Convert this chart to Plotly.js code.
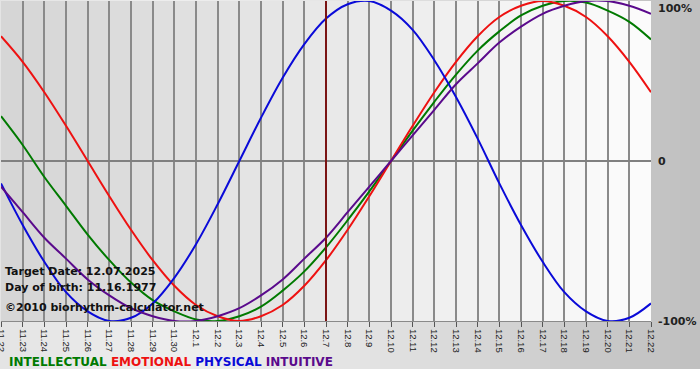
<!DOCTYPE html>
<html>
<head>
<meta charset="utf-8">
<script src="https://cdn.plot.ly/plotly-3.0.1.min.js"></script>
<style>html,body{margin:0;padding:0;background:#fff;}#chart{width:700px;height:380px;}</style>
</head>
<body>
<div id="chart"></div>
<script>
// ---- data ----
const days = ['11.22','11.23','11.24','11.25','11.26','11.27','11.28','11.29','11.30',
  '12.1','12.2','12.3','12.4','12.5','12.6','12.7','12.8','12.9','12.10','12.11','12.12',
  '12.13','12.14','12.15','12.16','12.17','12.18','12.19','12.20','12.21','12.22'];
const intellectual = [28,10,-10,-28,-46,-62,-76,-87,-94,-99,-100,-97,-91,-81,-69,-54,-37,-19,0,19,37,54,69,81,91,97,100,99,94,87,76];
const emotional    = [78,62,43,22,0,-22,-43,-62,-78,-90,-97,-100,-97,-90,-78,-62,-43,-22,0,22,43,62,78,90,97,100,97,90,78,62,43];
const physical     = [-14,-40,-63,-82,-94,-100,-98,-89,-73,-52,-27,0,27,52,73,89,98,100,94,82,63,40,14,-14,-40,-63,-82,-94,-100,-98,-89];
const intuitive    = [-16,-32,-48,-61,-74,-84,-92,-97,-100,-100,-97,-92,-84,-74,-61,-48,-32,-16,0,16,32,48,61,74,84,92,97,100,100,97,92];
const yTickVals = [-100, 0, 100];
const yTickText = ['-100%', '0', '100%'];
const targetDay = '12.7';
const infoLines = ['Target Date: 12.07.2025', 'Day of birth: 11.16.1977', '\u00a92010 biorhythm-calculator.net'];
const seriesNames = ['INTELLECTUAL', 'EMOTIONAL', 'PHYSICAL', 'INTUITIVE'];

// ---- styling ----
const colors = {INTELLECTUAL:'#007a00', EMOTIONAL:'#ee1111', PHYSICAL:'#0a0ad8', INTUITIVE:'#5a0a8c'};
const seriesData = {INTELLECTUAL:intellectual, EMOTIONAL:emotional, PHYSICAL:physical, INTUITIVE:intuitive};
const FONT = 'DejaVu Sans, Verdana, sans-serif';

const W = 700, H = 380, L = 1, R = 49, T = 1, B = 59;
const pw = W - L - R, ph = H - T - B;
const px2x = p => (p - L) / pw;
const py2y = p => (H - B - p) / ph;

const traces = seriesNames.map(n => ({
  x: days, y: seriesData[n], type: 'scatter', mode: 'lines', name: n,
  line: {color: colors[n], width: 2, shape: 'spline', smoothing: 1},
  hoverinfo: 'skip'
}));

const shapes = [];
function lerp(a, b, t) { return Math.round(a + (b - a) * t); }
function grayAt(px) {
  const stops = [[0, 228], [180, 238], [380, 226], [600, 200], [700, 192]];
  for (let k = 0; k < stops.length - 1; k++) {
    if (px <= stops[k+1][0]) {
      const t = (px - stops[k][0]) / (stops[k+1][0] - stops[k][0]);
      return lerp(stops[k][1], stops[k+1][1], t);
    }
  }
  return 192;
}
const stripe = 10;
for (let p = 0; p < W; p += stripe) {
  const g = grayAt(p + stripe / 2);
  shapes.push({type:'rect', xref:'paper', yref:'paper', layer:'below',
    x0: px2x(p), x1: px2x(p + stripe + 0.5), y0: py2y(369), y1: py2y(0),
    fillcolor: `rgb(${g},${g},${g})`, line:{width:0}});
}
const nCols = days.length - 1;
for (let i = 0; i < nCols; i++) {
  const g = lerp(213, 252, (i + 0.5) / nCols);
  shapes.push({type:'rect', xref:'x', yref:'paper', layer:'below',
    x0: i, x1: i + 1, y0: 0, y1: 1,
    fillcolor: `rgb(${g},${g},${g})`, line:{width:0}});
}
const ti = days.indexOf(targetDay);
shapes.push({type:'line', xref:'x', yref:'paper', layer:'above',
  x0: ti, x1: ti, y0: 0, y1: 1, line:{color:'#7a1414', width:2}});

const annotations = infoLines.map((t, k) => ({
  xref:'paper', yref:'paper', x: px2x(3), y: py2y([271, 287, 307][k]),
  xanchor:'left', yanchor:'middle', showarrow:false, text: t,
  font:{family: FONT, size: 11, color:'#111', weight: 'bold'}
}));
annotations.push({
  xref:'paper', yref:'paper', x: px2x(7), y: py2y(362), xanchor:'left', yanchor:'middle',
  showarrow:false,
  text: seriesNames.map(n => `<span style="color:${colors[n]}">${n}</span>`).join(' '),
  font:{family: FONT, size: 12, weight:'bold'}
});
yTickVals.forEach((v, k) => {
  annotations.push({
    xref:'paper', yref:'y', x: px2x(656), y: v, xanchor:'left',
    yanchor: v === 100 ? 'top' : 'middle', yshift: v === 100 ? 1 : 0,
    showarrow:false, text: yTickText[k],
    font:{family: FONT, size: 11, color:'#222', weight:'bold'}
  });
});

const layout = {
  width: W, height: H,
  margin: {l: L, r: R, t: T, b: B, pad: 0},
  paper_bgcolor: '#ffffff', plot_bgcolor: 'rgba(0,0,0,0)',
  showlegend: false,
  font: {family: FONT},
  xaxis: {
    type: 'category', range: [0, nCols], fixedrange: true,
    showgrid: true, gridcolor: '#8a8a8a', gridwidth: 2,
    tickangle: 90, ticks: 'outside', ticklen: 5, tickcolor: '#555', tickwidth: 1,
    tickfont: {family: 'Liberation Sans, Arial, sans-serif', size: 9.5, color: '#222'},
    showline: true, linecolor: '#8a8a8a', linewidth: 1, zeroline: false
  },
  yaxis: {
    side: 'right', range: [-100, 100], fixedrange: true,
    tickvals: yTickVals, showticklabels: false, ticks: '',
    showgrid: true, gridcolor: '#808080', gridwidth: 1.5, zeroline: false
  },
  shapes: shapes,
  annotations: annotations
};

Plotly.newPlot('chart', traces, layout, {staticPlot: true, displayModeBar: false});
</script>
</body>
</html>
